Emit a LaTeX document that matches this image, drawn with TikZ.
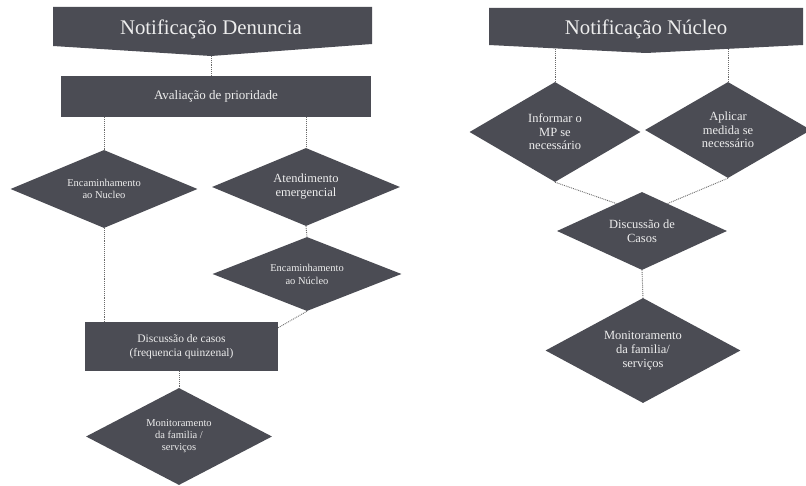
\documentclass[tikz,border=0pt]{standalone}
\usepackage{fontspec}
\setmainfont{Liberation Serif}
\usetikzlibrary{shapes.geometric,calc}
\definecolor{boxfill}{HTML}{4B4C54}
\definecolor{boxtext}{HTML}{EDEDED}
\definecolor{linecol}{HTML}{6A6A6A}
\tikzset{
  shapebase/.style={fill=boxfill, draw=none, text=boxtext, align=center, inner sep=0pt},
  rectbox/.style={shapebase, rectangle},
  diabox/.style={shapebase, diamond},
  dtext/.style={text=boxtext, align=center, inner sep=0pt},
  link/.style={draw=linecol, densely dotted, line width=0.9pt},
  titletext/.style={text=boxtext, inner sep=0pt, font=\fontsize{20.8}{24}\selectfont},
}
\begin{document}
\begin{tikzpicture}[x=1pt,y=-1pt]
\useasboundingbox (0,0) rectangle (806,486);
\fill[white] (0,0) rectangle (806,486);

% ---------- left title ----------
\coordinate (t1nw) at (53,7);
\coordinate (t1ne) at (372,7);
\coordinate (t1se) at (372,44);
\coordinate (t1sw) at (53,46);
\coordinate (t1tip) at (211,56);
\fill[boxfill] (t1nw) -- (t1ne) -- (t1se) -- (t1tip) -- (t1sw) -- cycle;
\node[titletext] (T1) at (211,29) {Notificação Denuncia};

\node[rectbox, minimum width=310pt, minimum height=41pt, font=\fontsize{13}{15}\selectfont] (A) at (216,96.5) {Avaliação de prioridade};

\node[diabox, minimum width=187pt, minimum height=78pt,
  label={[dtext, font=\fontsize{10.5}{11.5}\selectfont]center:{Encaminhamento\\ao Nucleo}}] (D1) at (104,189) {};
\node[diabox, minimum width=188pt, minimum height=78pt,
  label={[dtext, font=\fontsize{12.5}{14}\selectfont]center:{Atendimento\\emergencial}}] (D2) at (306,187) {};
\node[diabox, minimum width=189pt, minimum height=74pt,
  label={[dtext, font=\fontsize{10.5}{13}\selectfont]center:{Encaminhamento\\ao Núcleo}}] (D3) at (307,274) {};
\node[rectbox, minimum width=193pt, minimum height=49pt, font=\fontsize{11.5}{14}\selectfont] (B2) at (181.5,346.5) {Discussão de casos\\(frequencia quinzenal)};
\node[diabox, minimum width=186pt, minimum height=97pt,
  label={[dtext, font=\fontsize{10.5}{12}\selectfont]center:{Monitoramento\\da familia /\\serviços}}] (D4) at (179,436.5) {};

\draw[link] (t1tip) -- (t1tip |- A.north);
\draw[link] (D1.north |- A.south) -- (D1.north);
\draw[link] (D2.north |- A.south) -- (D2.north);
\draw[link] (D2.south) -- (D3.north);
\draw[link] (D1.south) -- (D1.south |- B2.north);
\draw[link] (D3.south) -- ($(B2.north east)!0.12!(B2.south east)$);
\draw[link] (D4.north |- B2.south) -- (D4.north);

% ---------- right title ----------
\coordinate (t2nw) at (489,8);
\coordinate (t2ne) at (803,8);
\coordinate (t2se) at (803,45);
\coordinate (t2sw) at (489,45);
\coordinate (t2tip) at (646,53);
\fill[boxfill] (t2nw) -- (t2ne) -- (t2se) -- (t2tip) -- (t2sw) -- cycle;
\node[titletext] (T2) at (646,29) {Notificação Núcleo};

\node[diabox, minimum width=171pt, minimum height=100pt,
  label={[dtext, font=\fontsize{12.5}{13.5}\selectfont]center:{Informar o\\MP se\\necessário}}] (R1) at (555,132) {};
\node[diabox, minimum width=166pt, minimum height=96pt,
  label={[dtext, font=\fontsize{12.5}{13.5}\selectfont]center:{Aplicar\\medida se\\necessário}}] (R2) at (728,130) {};
\node[diabox, minimum width=170pt, minimum height=78pt,
  label={[dtext, font=\fontsize{12.5}{14}\selectfont]center:{Discussão de\\Casos}}] (R3) at (642,231) {};
\node[diabox, minimum width=195pt, minimum height=105pt,
  label={[dtext, font=\fontsize{12.5}{14}\selectfont]center:{Monitoramento\\da familia/\\serviços}}] (R4) at (643,350.5) {};

\draw[link] (R1.north |- 0,49) -- (R1.north);
\draw[link] (R2.north |- 0,49) -- (R2.north);
\draw[link] (R1.south) -- ($(R3.north)!0.3!(R3.west)$);
\draw[link] (R2.south) -- ($(R3.north)!0.3!(R3.east)$);
\draw[link] (R3.south) -- (R4.north);
\end{tikzpicture}
\end{document}
